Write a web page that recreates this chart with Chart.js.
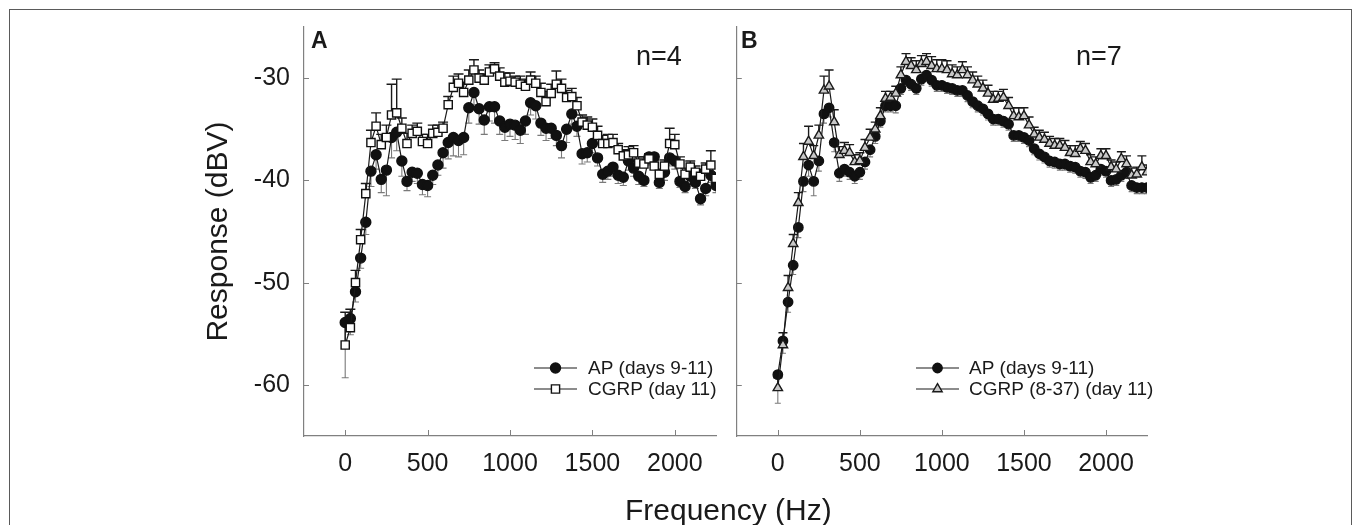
<!DOCTYPE html>
<html>
<head>
<meta charset="utf-8">
<title>Response vs frequency</title>
<script src="https://cdn.jsdelivr.net/npm/chart.js@4.4.1/dist/chart.umd.min.js"></script>
<style>
    html, body { margin: 0; padding: 0; background: #fff; }
    body {
        width: 1357px; height: 525px; position: relative; overflow: hidden;
        font-family: "Liberation Sans", Arial, sans-serif; color: #1a1a1a;
    }
    .frame {
        position: absolute; left: 9px; top: 9px; width: 1343px; height: 560px;
        border: 1px solid #5a5a5a; box-sizing: border-box;
    }
    canvas { position: absolute; top: 0; }
    #chart-a { left: 150px; }
    #chart-b { left: 730px; }
    .label { position: absolute; line-height: 1; white-space: nowrap; }
    .panel { font-weight: bold; font-size: 23px; }
    .count { font-size: 27px; }
    .axis-title { font-size: 30px; }
</style>
</head>
<body>
<div class="frame"></div>
<canvas id="chart-a" width="580" height="525"></canvas>
<canvas id="chart-b" width="627" height="525"></canvas>
<div class="label panel" style="left:311px; top:29px;">A</div>
<div class="label count" style="left:636px; top:43px;">n=4</div>
<div class="label panel" style="left:741px; top:29px;">B</div>
<div class="label count" style="left:1076px; top:43px;">n=7</div>
<div class="label axis-title" style="left:625px; top:495px;">Frequency (Hz)</div>

<script>
/**
 * Cochlear response curves, two panels (A and B)
 */

// Frequencies (Hz) shared by every series
const FREQS = [
    0, 31.25, 62.5, 93.75, 125, 156.25, 187.5, 218.75, 250, 281.25,
    312.5, 343.75, 375, 406.25, 437.5, 468.75, 500, 531.25, 562.5, 593.75,
    625, 656.25, 687.5, 718.75, 750, 781.25, 812.5, 843.75, 875, 906.25,
    937.5, 968.75, 1000, 1031.25, 1062.5, 1093.75, 1125, 1156.25, 1187.5, 1218.75,
    1250, 1281.25, 1312.5, 1343.75, 1375, 1406.25, 1437.5, 1468.75, 1500, 1531.25,
    1562.5, 1593.75, 1625, 1656.25, 1687.5, 1718.75, 1750, 1781.25, 1812.5, 1843.75,
    1875, 1906.25, 1937.5, 1968.75, 2000, 2031.25, 2062.5, 2093.75, 2125, 2156.25,
    2187.5, 2218.75, 2250
];

// Panel A: AP (days 9-11)
const A_AP = [
    -53.9, -53.5, -50.9, -47.6, -44.1, -39.1, -37.5, -39.9, -39.0, -35.8,
    -35.3, -38.1, -40.1, -39.2, -39.3, -40.4, -40.5, -39.5, -38.5, -37.3,
    -36.3, -35.8, -36.1, -35.8, -32.9, -31.4, -33.0, -34.1, -32.8, -32.8,
    -34.2, -34.8, -34.5, -34.6, -35.1, -34.2, -32.4, -32.7, -34.4, -34.9,
    -34.9, -35.6, -36.6, -35.0, -33.5, -34.7, -37.4, -37.3, -36.4, -37.8,
    -39.4, -39.1, -38.7, -39.5, -39.7, -38.1, -38.8, -39.6, -40.0, -37.7,
    -37.7, -40.2, -39.2, -37.8, -38.1, -40.1, -40.6, -39.6, -40.2, -41.8,
    -40.8, -39.5, -40.5
];
const A_AP_ERR = [
    5.4, 1.6, 1.0, 1.0, 1.2, 1.5, 1.4, 1.3, 2.5, 2.0,
    1.8, 1.5, 0.9, 0.9, 1.0, 1.0, 1.1, 0.9, 1.0, 1.5,
    1.6, 1.8, 1.6, 1.7, 1.5, 1.2, 1.5, 1.4, 1.4, 1.6,
    1.3, 1.3, 1.2, 1.4, 1.3, 1.3, 1.2, 1.3, 1.2, 1.2,
    1.0, 1.0, 1.2, 1.3, 1.0, 1.0, 1.0, 0.9, 0.9, 0.8,
    0.8, 0.8, 0.9, 0.8, 0.8, 0.9, 0.8, 0.8, 0.6, 0.8,
    0.8, 0.6, 0.8, 0.8, 0.8, 0.6, 0.6, 0.8, 0.6, 0.6,
    0.7, 0.7, 0.7
];

// Panel A: CGRP (day 11)
const A_CGRP = [
    -56.1, -54.4, -50.0, -45.8, -41.3, -36.3, -34.7, -36.5, -35.8, -33.6,
    -33.4, -34.9, -36.4, -35.4, -35.2, -36.2, -36.4, -35.4, -35.3, -34.9,
    -32.6, -30.9, -30.5, -31.4, -30.2, -29.2, -30.0, -30.2, -29.4, -29.1,
    -29.8, -30.4, -30.3, -30.4, -30.6, -30.8, -30.2, -30.5, -31.4, -32.3,
    -31.5, -30.6, -31.0, -31.9, -31.8, -32.7, -34.3, -34.6, -34.8, -35.6,
    -36.4, -36.4, -36.3, -37.0, -37.6, -37.5, -37.3, -38.3, -38.4, -37.9,
    -38.6, -39.4, -38.6, -36.4, -36.5, -38.4, -39.4, -38.7, -39.2, -39.6,
    -38.9, -38.5, -39.8
];
const A_CGRP_ERR = [
    3.2, 1.8, 1.2, 1.0, 1.0, 1.2, 1.3, 1.0, 1.2, 3.0,
    3.3, 1.0, 1.0, 0.8, 0.8, 0.7, 0.9, 0.8, 0.7, 0.6,
    0.8, 1.1, 0.9, 1.0, 1.0, 1.0, 0.8, 0.6, 0.7, 0.6,
    0.8, 0.9, 0.8, 0.6, 0.8, 0.7, 0.8, 0.7, 0.9, 1.0,
    0.9, 1.3, 0.9, 0.7, 0.8, 0.8, 0.7, 0.8, 0.8, 0.9,
    0.8, 0.9, 0.8, 0.6, 0.6, 0.8, 0.7, 0.6, 0.7, 0.5,
    0.6, 0.5, 0.6, 1.5, 1.0, 0.7, 0.6, 0.6, 0.6, 0.7,
    0.6, 1.4, 0.5
];

// Panel B: AP (days 9-11)
const B_AP = [
    -59.0, -55.7, -51.9, -48.3, -44.6, -40.1, -38.5, -40.1, -38.1, -33.5,
    -32.9, -36.3, -39.3, -38.9, -39.2, -39.6, -39.2, -38.2, -37.0, -35.7,
    -34.2, -32.7, -32.7, -32.7, -31.0, -30.2, -30.6, -31.0, -30.1, -29.7,
    -30.2, -30.7, -30.7, -30.9, -31.0, -31.2, -31.2, -31.7, -32.3, -32.7,
    -33.0, -33.5, -34.0, -34.0, -34.2, -34.5, -35.6, -35.6, -35.8, -36.1,
    -36.9, -37.4, -37.7, -38.1, -38.2, -38.4, -38.4, -38.6, -38.7, -39.1,
    -39.2, -39.7, -39.5, -38.9, -39.1, -40.0, -39.9, -39.5, -39.2, -40.5,
    -40.7, -40.7, -40.7
];
const B_AP_ERR = [
    2.8, 1.2, 1.0, 0.9, 1.0, 1.0, 1.1, 1.4, 1.0, 0.9,
    0.9, 0.9, 0.8, 0.7, 0.7, 0.7, 0.7, 0.7, 0.7, 0.7,
    0.6, 0.6, 0.6, 0.7, 0.6, 0.6, 0.6, 0.6, 0.6, 0.6,
    0.6, 0.6, 0.6, 0.6, 0.6, 0.6, 0.6, 0.6, 0.6, 0.6,
    0.6, 0.6, 0.6, 0.6, 0.6, 0.6, 0.6, 0.6, 0.6, 0.6,
    0.6, 0.6, 0.6, 0.6, 0.6, 0.6, 0.6, 0.6, 0.6, 0.6,
    0.6, 0.6, 0.6, 0.6, 0.6, 0.6, 0.6, 0.6, 0.6, 0.6,
    0.6, 0.6, 0.6
];

// Panel B: CGRP (8-37) (day 11)
const B_CGRP = [
    -60.3, -56.1, -50.5, -46.2, -42.2, -37.7, -36.2, -37.6, -35.6, -31.2,
    -30.8, -34.3, -37.5, -37.1, -37.3, -38.2, -38.1, -36.8, -35.8, -35.0,
    -33.7, -32.0, -31.9, -31.5, -29.7, -28.4, -28.8, -29.2, -28.6, -28.4,
    -28.8, -29.1, -29.1, -29.2, -29.6, -29.7, -29.2, -29.7, -30.2, -30.6,
    -31.0, -31.5, -32.1, -32.0, -31.9, -32.7, -33.7, -33.8, -33.7, -34.6,
    -35.5, -35.8, -36.0, -36.4, -36.6, -36.6, -36.8, -37.3, -37.4, -36.9,
    -37.1, -38.2, -38.4, -37.6, -37.6, -38.7, -38.9, -37.9, -38.4, -39.5,
    -39.4, -38.7, -39.2
];
const B_CGRP_ERR = [
    1.0, 1.2, 1.2, 0.9, 1.0, 1.3, 1.5, 1.0, 1.0, 1.4,
    1.6, 1.2, 0.8, 0.8, 0.8, 0.7, 0.8, 0.8, 0.8, 0.7,
    0.8, 0.7, 0.6, 0.7, 0.8, 0.8, 0.8, 0.9, 0.8, 0.8,
    0.9, 0.9, 0.9, 0.9, 0.9, 0.8, 0.8, 0.8, 0.8, 0.8,
    0.8, 0.8, 0.8, 0.7, 0.8, 0.8, 0.8, 0.9, 0.8, 0.8,
    0.7, 0.7, 0.7, 0.7, 0.7, 0.7, 0.7, 0.7, 0.8, 0.7,
    0.7, 0.7, 0.7, 0.7, 0.7, 0.7, 0.7, 0.7, 0.8, 0.7,
    0.7, 1.1, 0.7
];

// Axis ticks
const X_TICKS = [0, 500, 1000, 1500, 2000];
const Y_TICKS = [-60, -50, -40, -30];

const FONT_FAMILY = '"Liberation Sans", Arial, sans-serif';
const AXIS_COLOR = '#808080';
const TEXT_COLOR = '#1a1a1a';

/**
 * Error bars: one-sided whiskers with caps, drawn under the markers
 */
const errorBarsPlugin = {
    id: 'errorBars',
    beforeDatasetsDraw(chart) {
        const { ctx, chartArea } = chart;
        const yScale = chart.scales.y;
        ctx.save();
        ctx.beginPath();
        ctx.rect(chartArea.left, chartArea.top, chartArea.right - chartArea.left, chartArea.bottom - chartArea.top);
        ctx.clip();
        chart.data.datasets.forEach((ds, i) => {
            if (!ds.errors) return;
            const meta = chart.getDatasetMeta(i);
            ctx.strokeStyle = ds.errorColor;
            ctx.lineWidth = ds.errorWidth;
            meta.data.forEach((pt, j) => {
                const v = ds.data[j].y + ds.errorDir * ds.errors[j];
                const yEnd = yScale.getPixelForValue(v);
                ctx.beginPath();
                ctx.moveTo(pt.x, pt.y);
                ctx.lineTo(pt.x, yEnd);
                ctx.moveTo(pt.x - ds.capHalf, yEnd);
                ctx.lineTo(pt.x + ds.capHalf, yEnd);
                ctx.stroke();
            });
        });
        ctx.restore();
    }
};

/**
 * Tick marks pointing into the plot area
 */
const innerTicksPlugin = {
    id: 'innerTicks',
    beforeDatasetsDraw(chart) {
        const { ctx, chartArea } = chart;
        const x = chart.scales.x;
        const y = chart.scales.y;
        ctx.save();
        ctx.strokeStyle = AXIS_COLOR;
        ctx.lineWidth = 1;
        x.ticks.forEach(t => {
            const px = Math.round(x.getPixelForValue(t.value)) + 0.5;
            ctx.beginPath();
            ctx.moveTo(px, chartArea.bottom);
            ctx.lineTo(px, chartArea.bottom - 6);
            ctx.stroke();
        });
        y.ticks.forEach(t => {
            const py = Math.round(y.getPixelForValue(t.value)) + 0.5;
            ctx.beginPath();
            ctx.moveTo(chartArea.left, py);
            ctx.lineTo(chartArea.left + 5, py);
            ctx.stroke();
        });
        ctx.restore();
    }
};

/**
 * Draw a marker; uses the library helper when it is there
 */
function drawMarker(ctx, style, x, y) {
    ctx.fillStyle = style.pointBackgroundColor;
    ctx.strokeStyle = style.pointBorderColor;
    ctx.lineWidth = style.pointBorderWidth;
    const opts = { pointStyle: style.pointStyle, radius: style.pointRadius, rotation: 0, borderWidth: style.pointBorderWidth };
    if (Chart.helpers && Chart.helpers.drawPoint) {
        Chart.helpers.drawPoint(ctx, opts, x, y);
        return;
    }
    const r = style.pointRadius;
    ctx.beginPath();
    if (style.pointStyle === 'rect') {
        const s = r * Math.SQRT1_2;
        ctx.rect(x - s, y - s, 2 * s, 2 * s);
    } else if (style.pointStyle === 'triangle') {
        ctx.moveTo(x, y - r);
        ctx.lineTo(x + r * Math.sin(2 * Math.PI / 3), y - r * Math.cos(2 * Math.PI / 3));
        ctx.lineTo(x + r * Math.sin(4 * Math.PI / 3), y - r * Math.cos(4 * Math.PI / 3));
        ctx.closePath();
    } else {
        ctx.arc(x, y, r, 0, Math.PI * 2);
    }
    ctx.fill();
    ctx.stroke();
}

/**
 * Legend inside the plot: line, marker, label
 */
const insetLegendPlugin = {
    id: 'insetLegend',
    afterDraw(chart, args, opts) {
        const { ctx } = chart;
        ctx.save();
        ctx.font = `${opts.fontSize}px ${FONT_FAMILY}`;
        ctx.textBaseline = 'middle';
        ctx.textAlign = 'left';
        chart.data.datasets.forEach((ds, i) => {
            const y = opts.top + i * opts.rowHeight;
            ctx.strokeStyle = ds.borderColor;
            ctx.lineWidth = ds.borderWidth;
            ctx.beginPath();
            ctx.moveTo(opts.left, y);
            ctx.lineTo(opts.left + opts.lineLength, y);
            ctx.stroke();
            drawMarker(ctx, ds, opts.left + opts.lineLength / 2, y);
            ctx.fillStyle = TEXT_COLOR;
            ctx.fillText(ds.label, opts.left + opts.lineLength + opts.textGap, y + 1);
        });
        ctx.restore();
    }
};

/**
 * Build one series (line + markers + error info)
 */
function makeSeries(label, values, errors, style) {
    return {
        label: label,
        data: FREQS.map((f, i) => ({ x: f, y: values[i] })),
        errors: errors,
        borderColor: '#1a1a1a',
        borderWidth: 1.2,
        tension: 0,
        pointBorderWidth: 1.4,
        ...style
    };
}

/**
 * Build the options for one panel
 */
function makeOptions(cfg) {
    return {
        responsive: false,
        animation: false,
        events: [],
        layout: { padding: { top: 27, right: cfg.paddingRight, bottom: 0, left: 0 } },
        plugins: {
            legend: { display: false },
            tooltip: { enabled: false },
            insetLegend: cfg.legend
        },
        scales: {
            x: {
                type: 'linear',
                min: -250,
                max: 2250,
                afterBuildTicks: scale => { scale.ticks = X_TICKS.map(v => ({ value: v })); },
                afterFit: scale => {
                    scale.height = 89;
                    scale.paddingLeft = 0;
                    scale.paddingRight = 0;
                },
                grid: { display: false, drawTicks: false },
                border: { display: true, color: AXIS_COLOR, width: 1.2 },
                ticks: {
                    padding: 13,
                    color: TEXT_COLOR,
                    font: { family: FONT_FAMILY, size: 25 },
                    maxRotation: 0,
                    callback: v => String(v)
                }
            },
            y: {
                type: 'linear',
                min: -65,
                max: -25,
                afterBuildTicks: scale => { scale.ticks = Y_TICKS.map(v => ({ value: v })); },
                afterFit: scale => {
                    scale.width = cfg.yWidth;
                    scale.paddingTop = 0;
                    scale.paddingBottom = 0;
                },
                grid: { display: false, drawTicks: false },
                border: { display: true, color: AXIS_COLOR, width: 1.2 },
                title: cfg.yTitle,
                ticks: {
                    display: cfg.showYLabels,
                    padding: 14,
                    color: TEXT_COLOR,
                    font: { family: FONT_FAMILY, size: 25 },
                    callback: v => String(v)
                }
            }
        }
    };
}

const AP_STYLE_A = {
    order: 1,
    pointStyle: 'circle', pointRadius: 5.0,
    pointBackgroundColor: '#111', pointBorderColor: '#111',
    errorDir: -1, errorColor: '#7a7a7a', errorWidth: 1.1, capHalf: 3.5
};

const CGRP_STYLE_A = {
    order: 0,
    pointStyle: 'rect', pointRadius: 5.8,
    pointBackgroundColor: '#ffffff', pointBorderColor: '#111',
    errorDir: 1, errorColor: '#1a1a1a', errorWidth: 1.4, capHalf: 5
};

const AP_STYLE_B = {
    ...AP_STYLE_A,
    pointRadius: 4.7, capHalf: 3
};

const CGRP_STYLE_B = {
    order: 0,
    pointStyle: 'triangle', pointRadius: 5.4,
    pointBackgroundColor: '#c8c8c8', pointBorderColor: '#1a1a1a',
    errorDir: 1, errorColor: '#1a1a1a', errorWidth: 1.4, capHalf: 4.5
};

new Chart(document.getElementById('chart-a'), {
    type: 'line',
    data: {
        datasets: [
            makeSeries('AP (days 9-11)', A_AP, A_AP_ERR, AP_STYLE_A),
            makeSeries('CGRP (day 11)', A_CGRP, A_CGRP_ERR, CGRP_STYLE_A)
        ]
    },
    options: makeOptions({
        paddingRight: 14,
        yWidth: 154,
        showYLabels: true,
        yTitle: {
            display: true,
            text: 'Response (dBV)',
            color: TEXT_COLOR,
            font: { family: FONT_FAMILY, size: 30 },
            padding: { top: 51, bottom: 0 }
        },
        legend: { left: 384, top: 368, lineLength: 43, textGap: 11, rowHeight: 21, fontSize: 19 }
    }),
    plugins: [errorBarsPlugin, innerTicksPlugin, insetLegendPlugin]
});

new Chart(document.getElementById('chart-b'), {
    type: 'line',
    data: {
        datasets: [
            makeSeries('AP (days 9-11)', B_AP, B_AP_ERR, AP_STYLE_B),
            makeSeries('CGRP (8-37) (day 11)', B_CGRP, B_CGRP_ERR, CGRP_STYLE_B)
        ]
    },
    options: makeOptions({
        paddingRight: 210,
        yWidth: 5,
        showYLabels: false,
        yTitle: { display: false },
        legend: { left: 186, top: 368, lineLength: 43, textGap: 10, rowHeight: 21, fontSize: 19 }
    }),
    plugins: [errorBarsPlugin, innerTicksPlugin, insetLegendPlugin]
});
</script>
</body>
</html>
